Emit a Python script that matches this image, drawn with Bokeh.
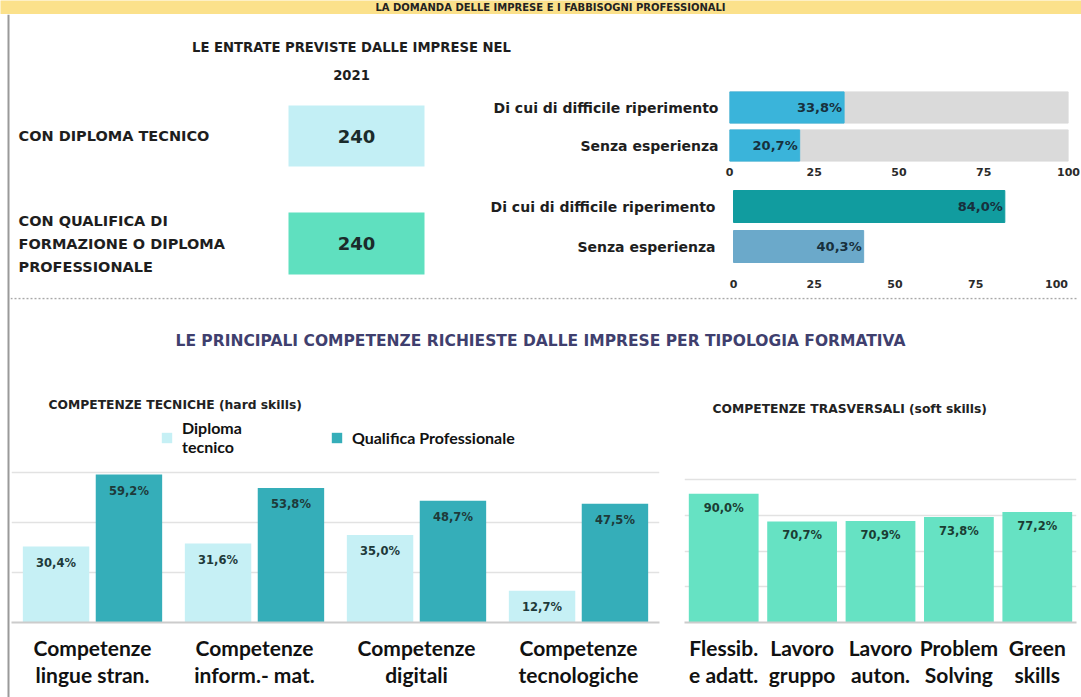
from bokeh.plotting import figure
from bokeh.layouts import row, column
from bokeh.models import Range1d, FactorRange, FixedTicker, Legend, LegendItem, ColumnDataSource, Grid
from bokeh.transform import dodge
from bokeh.core.properties import value
from bokeh.embed import file_html
from bokeh.resources import INLINE

# ---------------- data ----------------
title_text = "LA DOMANDA DELLE IMPRESE E I FABBISOGNI PROFESSIONALI"
entrate_title = ["LE ENTRATE PREVISTE DALLE IMPRESE NEL", "2021"]
entrate_labels = ["CON DIPLOMA TECNICO", "CON QUALIFICA DI\nFORMAZIONE O DIPLOMA\nPROFESSIONALE"]
entrate_values = [240, 240]

diff_labels = ["Di cui di difficile riperimento", "Senza esperienza"]
diploma_diff = [33.8, 20.7]
qualifica_diff = [84.0, 40.3]
pct_ticks = [0, 25, 50, 75, 100]

section2_title = "LE PRINCIPALI COMPETENZE RICHIESTE DALLE IMPRESE PER TIPOLOGIA FORMATIVA"
hard_title = "COMPETENZE TECNICHE (hard skills)"
soft_title = "COMPETENZE TRASVERSALI (soft skills)"
series_names = ["Diploma\ntecnico", "Qualifica Professionale"]

hard_cats = ["Competenze\nlingue stran.", "Competenze\ninform.- mat.", "Competenze\ndigitali", "Competenze\ntecnologiche"]
hard_diploma = [30.4, 31.6, 35.0, 12.7]
hard_qualifica = [59.2, 53.8, 48.7, 47.5]
hard_grid = [20, 40, 60]

soft_cats = ["Flessib.\ne adatt.", "Lavoro\ngruppo", "Lavoro\nauton.", "Problem\nSolving", "Green\nskills"]
soft_values = [90.0, 70.7, 70.9, 73.8, 77.2]
soft_grid = [25, 50, 75, 100]

# ---------------- style ----------------
FONT = "DejaVu Sans"
LFONT = "Lato"
C_YELLOW = "#FBE18B"
C_BORDER = "#9A9A9A"
C_BOX = ["#C3EFF5", "#5FE0BF"]
C_GRAYBAR = "#DADADA"
C_A = "#3AB4DA"
C_B = ["#119C9F", "#6BA9CA"]
C_DIP = "#C6F0F5"
C_QUAL = "#35AEB9"
C_SOFT = "#66E2C3"
C_TXT = "#1E1E1E"

BAND_H = 14


def pct(v):
    return f"{v:.1f}".replace(".", ",") + "%"


def canvas(w, h, x0, y0):
    p = figure(width=w, height=h, x_range=Range1d(x0, x0 + w), y_range=Range1d(y0 + h, y0),
               x_axis_type=None, y_axis_type=None, output_backend="svg",
               toolbar_location=None, min_border=0)
    p.outline_line_color = None
    p.grid.visible = False
    return p


def txt(p, x, y, s, size, color=C_TXT, align="left", font=FONT, style="bold", baseline="middle"):
    p.text(x=[x], y=[y], text=[s], text_font=value(font), text_font_size=size,
           text_font_style=style, text_color=color, text_align=align, text_baseline=baseline)


# ---------------- top band ----------------
band = canvas(1081, BAND_H, 0, 0)
band.background_fill_color = C_YELLOW
band.border_fill_color = C_YELLOW
txt(band, 550, BAND_H / 2, title_text, "10px", "#222222", "center")

# ---------------- left border strip ----------------
strip = canvas(10, 697 - BAND_H, 0, BAND_H)
strip.line(x=[8, 8], y=[BAND_H, 697], line_color=C_BORDER, line_width=2)

# ---------------- section 1 ----------------
sec1_top = canvas(1071, 85 - BAND_H, 10, BAND_H)
txt(sec1_top, 351, 47, entrate_title[0], "13.2px", align="center")
txt(sec1_top, 351, 74, entrate_title[1], "13.2px", align="center")

sec1_left = canvas(460, 212, 10, 85)
box_top = [105, 212]
box_bot = [166, 274]
sec1_left.quad(left=288, right=424, top=box_top, bottom=box_bot, fill_color=C_BOX, line_color=None)
sec1_left.text(x=[356, 356], y=[(a + b) / 2 for a, b in zip(box_top, box_bot)],
               text=[str(v) for v in entrate_values], text_font=value(FONT), text_font_size="18px",
               text_font_style="bold", text_color="#1B2B2B", text_align="center", text_baseline="middle")
for lab, yc in zip(entrate_labels, [(a + b) / 2 for a, b in zip(box_top, box_bot)]):
    lines = lab.split("\n")
    step = 23
    y0 = yc - step * (len(lines) - 1) / 2
    for i, ln in enumerate(lines):
        txt(sec1_left, 18, y0 + i * step, ln, "14.5px")

# horizontal bar charts: both share the same frame (729..1068 px on the page)
FRAME_L, FRAME_R = 729, 1068
B_ZERO, B_FULL = 733, 1056          # where 0 and 100 fall in the second chart
ub = (B_FULL - B_ZERO) / (pct_ticks[-1] - pct_ticks[0])
b_start = pct_ticks[0] - (B_ZERO - FRAME_L) / ub
b_end = pct_ticks[-1] + (FRAME_R - B_FULL) / ub


def style_hbar_fig(p, standoff_y, standoff_x):
    p.outline_line_color = None
    p.grid.visible = False
    xa = p.xaxis[0]
    xa.ticker = FixedTicker(ticks=pct_ticks)
    xa.axis_line_color = None
    xa.major_tick_line_color = None
    xa.major_tick_out = 0
    xa.major_tick_in = 0
    xa.minor_tick_line_color = None
    xa.major_label_standoff = standoff_x
    xa.major_label_text_font = FONT
    xa.major_label_text_font_style = "bold"
    xa.major_label_text_font_size = "11px"
    xa.major_label_text_color = "#2A2A2A"
    ya = p.yaxis[0]
    ya.axis_line_color = None
    ya.major_tick_line_color = None
    ya.major_tick_out = 0
    ya.major_tick_in = 0
    ya.minor_tick_line_color = None
    ya.major_label_standoff = standoff_y
    ya.major_label_text_font = FONT
    ya.major_label_text_font_style = "bold"
    ya.major_label_text_font_size = "14px"
    ya.major_label_text_color = C_TXT


pA = figure(width=611, height=97, x_range=Range1d(pct_ticks[0], pct_ticks[-1]),
            y_range=FactorRange(factors=diff_labels[::-1]), output_backend="svg",
            toolbar_location=None, min_border=0, min_border_left=FRAME_L - 470,
            min_border_right=1081 - FRAME_R, min_border_top=3, min_border_bottom=18)
pA.hbar(y=diff_labels, left=pct_ticks[0], right=pct_ticks[-1], height=0.82, color=C_GRAYBAR)
pA.hbar(y=diff_labels, left=pct_ticks[0], right=diploma_diff, height=0.82, color=C_A)
pA.text(x=diploma_diff, y=diff_labels, text=[pct(v) for v in diploma_diff], x_offset=-2,
        text_align="right", text_baseline="middle", text_font=value(FONT), text_font_size="13px",
        text_font_style="bold", text_color="#17303D")
style_hbar_fig(pA, 11, 3)

pB = figure(width=611, height=115, x_range=Range1d(b_start, b_end),
            y_range=FactorRange(factors=diff_labels[::-1]), output_backend="svg",
            toolbar_location=None, min_border=0, min_border_left=FRAME_L - 470,
            min_border_right=1081 - FRAME_R, min_border_top=4, min_border_bottom=31)
pB.hbar(y=diff_labels, left=pct_ticks[0], right=qualifica_diff, height=0.8, color=C_B)
pB.text(x=qualifica_diff, y=diff_labels, text=[pct(v) for v in qualifica_diff], x_offset=-2,
        text_align="right", text_baseline="middle", text_font=value(FONT), text_font_size="13px",
        text_font_style="bold", text_color="#17303D")
style_hbar_fig(pB, 14, 13)

# ---------------- section 2 header ----------------
FIG_TOP = 415
header2 = canvas(1071, FIG_TOP - 297, 10, 297)
header2.line(x=[10, 1078], y=[298, 298], line_color="#A8A8A8", line_width=1.5, line_dash="2 2")
txt(header2, 540, 340, section2_title, "15.5px", "#3F3F6E", "center")
txt(header2, 48, 404, hard_title, "12.3px", "#222222")
txt(header2, 712, 408, soft_title, "12.3px", "#222222")

# ---------------- vertical bar charts ----------------
FRAME_TOP, FRAME_BOT = 417, 622     # page pixels of the chart frames
HARD_GRID_PX = 472                   # page pixel of top hard-skill gridline
SOFT_GRID_PX = 479                   # page pixel of top soft-skill gridline
fh = FRAME_BOT - FRAME_TOP


def style_cat_fig(p):
    p.outline_line_color = None
    p.grid.visible = False
    ax = p.xaxis[0]
    ax.axis_line_color = "#CCCCCC"
    ax.axis_line_width = 2
    ax.major_tick_line_color = None
    ax.major_tick_out = 0
    ax.major_tick_in = 0
    ax.minor_tick_line_color = None
    ax.major_label_standoff = 12
    ax.major_label_text_font = LFONT
    ax.major_label_text_font_style = "bold"
    ax.major_label_text_font_size = "21px"
    ax.major_label_text_color = "#111111"
    ax.major_label_text_line_height = 1.11


hsrc = ColumnDataSource(dict(cat=hard_cats, dip=hard_diploma, qual=hard_qualifica,
                             dip_l=[pct(v) for v in hard_diploma], qual_l=[pct(v) for v in hard_qualifica]))
pH = figure(width=660, height=697 - FIG_TOP, x_range=FactorRange(factors=hard_cats),
            y_range=Range1d(0, hard_grid[-1] * fh / (FRAME_BOT - HARD_GRID_PX)),
            y_axis_location=None, output_backend="svg", toolbar_location=None,
            min_border=0, min_border_left=1, min_border_right=11,
            min_border_top=FRAME_TOP - FIG_TOP, min_border_bottom=697 - FRAME_BOT)
style_cat_fig(pH)
pH.add_layout(Grid(dimension=1, ticker=FixedTicker(ticks=hard_grid), grid_line_color="#E2E2E2",
                   grid_line_width=1.5))
r1 = pH.vbar(x=dodge("cat", -0.225, range=pH.x_range), top="dip", width=0.41, source=hsrc,
             fill_color=C_DIP, line_color=None)
r2 = pH.vbar(x=dodge("cat", 0.225, range=pH.x_range), top="qual", width=0.41, source=hsrc,
             fill_color=C_QUAL, line_color=None)
for col, lab, off in [("dip", "dip_l", -0.225), ("qual", "qual_l", 0.225)]:
    pH.text(x=dodge("cat", off, range=pH.x_range), y=col, text=lab, source=hsrc, y_offset=16,
            text_align="center", text_baseline="middle", text_font=value(FONT),
            text_font_size="11.5px", text_font_style="bold", text_color="#1E3A3A")
leg = Legend(items=[LegendItem(label=series_names[0], renderers=[r1]),
                    LegendItem(label=series_names[1], renderers=[r2])],
             orientation="horizontal", location=(149, FRAME_BOT - 456),
             glyph_width=13, glyph_height=13, label_standoff=9, spacing=88,
             padding=0, margin=0, border_line_color=None, background_fill_alpha=0,
             label_text_font=LFONT, label_text_font_style="bold", label_text_font_size="16px",
             label_text_color="#111111")
pH.add_layout(leg)

ssrc = ColumnDataSource(dict(cat=soft_cats, val=soft_values, lab=[pct(v) for v in soft_values]))
pS = figure(width=411, height=697 - FIG_TOP, x_range=FactorRange(factors=soft_cats),
            y_range=Range1d(0, soft_grid[-1] * fh / (FRAME_BOT - SOFT_GRID_PX)),
            y_axis_location=None, output_backend="svg", toolbar_location=None,
            min_border=0, min_border_left=14, min_border_right=5,
            min_border_top=FRAME_TOP - FIG_TOP, min_border_bottom=697 - FRAME_BOT)
style_cat_fig(pS)
pS.add_layout(Grid(dimension=1, ticker=FixedTicker(ticks=soft_grid), grid_line_color="#E2E2E2",
                   grid_line_width=1.5))
pS.vbar(x="cat", top="val", width=0.89, source=ssrc, fill_color=C_SOFT, line_color=None)
pS.text(x="cat", y="val", text="lab", source=ssrc, y_offset=14, text_align="center",
        text_baseline="middle", text_font=value(FONT), text_font_size="11.5px",
        text_font_style="bold", text_color="#1B3D33")

# ---------------- layout ----------------
main = column(sec1_top, row(sec1_left, column(pA, pB)), header2, row(pH, pS))
page = column(band, row(strip, main))

open("out.html", "w").write(file_html(page, INLINE, title="Fabbisogni professionali"))
